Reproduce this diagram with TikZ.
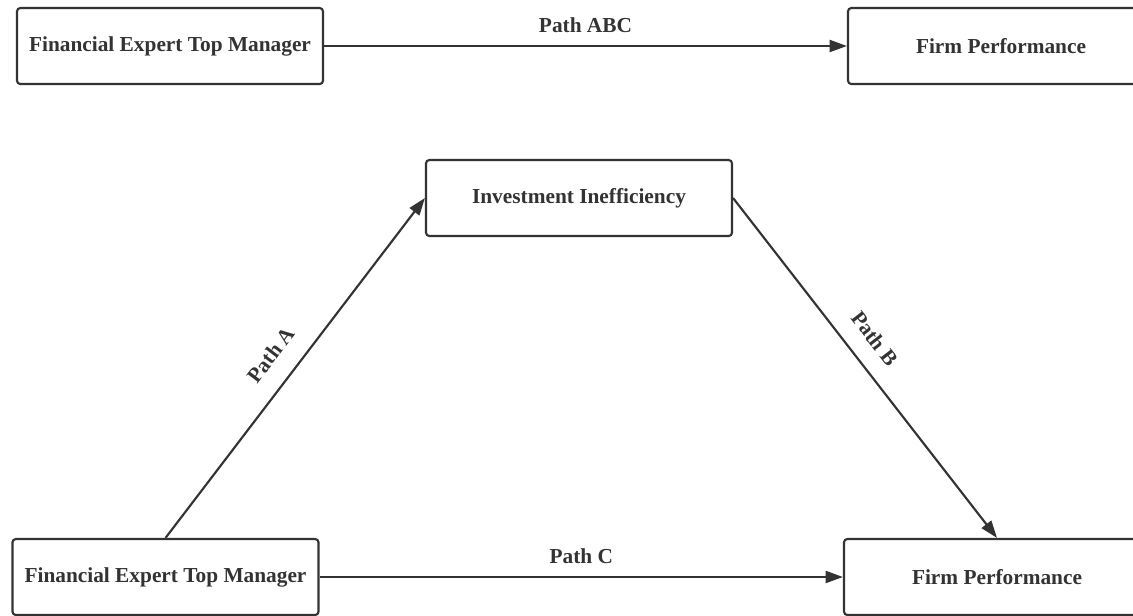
\documentclass[tikz,border=0pt]{standalone}
\usepackage{fontspec}
\setmainfont{Liberation Serif}
\usepackage{tikz}
\usetikzlibrary{arrows.meta,positioning}
\definecolor{linegray}{HTML}{333333}

\begin{document}
\begin{tikzpicture}[x=0.75pt, y=-0.75pt,
    box/.style={draw=linegray, line width=1.6pt, rounded corners=2.5pt, fill=white,
        minimum width=229.5pt, minimum height=57pt,
        font=\fontsize{16}{19}\selectfont\bfseries, text=linegray},
    link/.style={draw=linegray, line width=1.6pt, -{Triangle[length=13pt,width=9pt]}},
    lbl/.style={font=\fontsize{16}{19}\selectfont\bfseries, text=linegray, inner sep=0pt}]
    \useasboundingbox (0,0) rectangle (1133,615);
    \clip (0,0) rectangle (1133,615);

    % total effect
    \node[box] (topF) at (170,46) {Financial Expert Top Manager};
    \node[box] (topP) at (1001,46) {Firm Performance};
    \draw[link] (topF) -- node[lbl, above=9pt] {Path ABC} (topP);

    % mediation
    \node[box] (mid) at (579,198) {Investment Inefficiency};
    \node[box] (botF) at (165.5,577) {Financial Expert Top Manager};
    \node[box] (botP) at (997,577) {Firm Performance};

    \draw[link] (botF.north) -- node[lbl, sloped, above=14pt, pos=0.49] {Path A} (mid.west);
    \draw[link] (mid.east) -- node[lbl, sloped, above=13pt, pos=0.46] {Path B} (botP.north);
    \draw[link] (botF) -- node[lbl, above=9pt] {Path C} (botP);
\end{tikzpicture}
\end{document}
